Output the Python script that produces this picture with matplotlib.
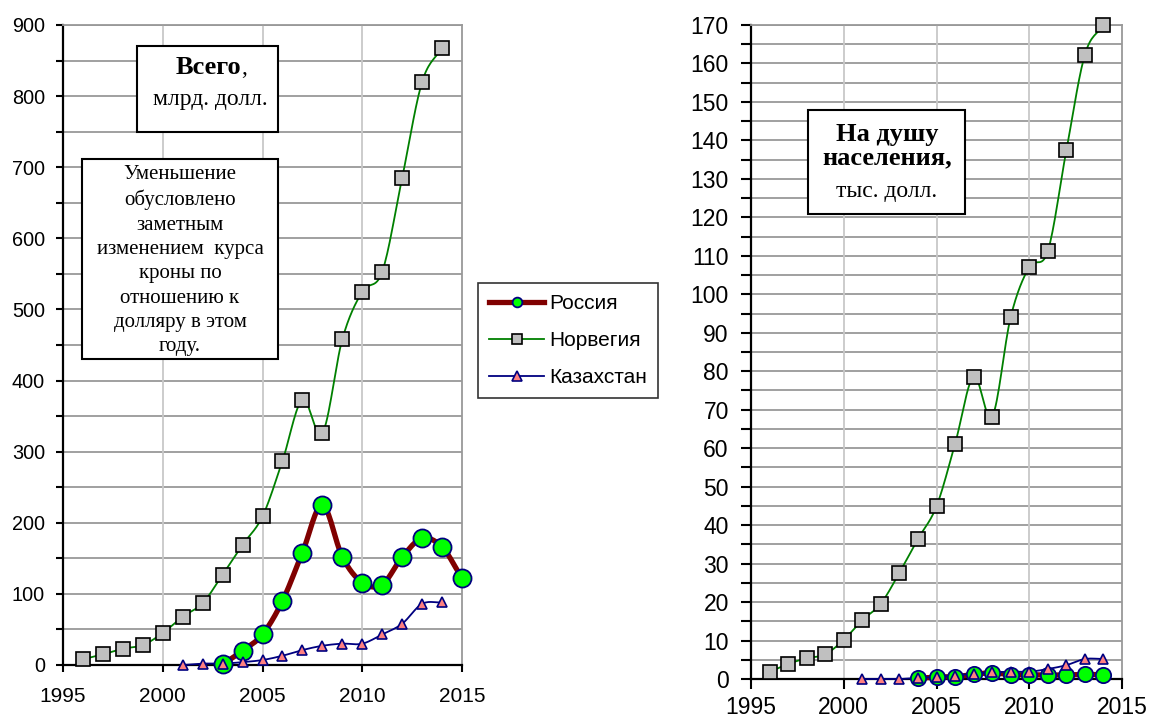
import numpy as np
import matplotlib.pyplot as plt
from matplotlib.patches import Rectangle

# Data
years_nor = list(range(1996, 2015))
years_rus_total = list(range(2003, 2016))
years_rus_pc = list(range(2004, 2015))
years_kaz = list(range(2001, 2015))

nor_total = [8, 15, 23, 28, 45, 68, 87, 127, 169, 209, 287, 373, 326, 458, 525, 553, 685, 820, 868]
rus_total = [1, 20, 43, 90, 158, 225, 152, 116, 113, 152, 178, 166, 122]
kaz_total = [0, 2, 2, 4, 7, 13, 21, 27, 30, 30, 43, 58, 86, 88]

nor_pc = [1.8, 3.9, 5.4, 6.4, 10.2, 15.3, 19.6, 27.6, 36.4, 44.9, 61.1, 78.6, 68.2, 94.1,
          107.1, 111.2, 137.4, 162.3, 170.0]
rus_pc = [0.2, 0.5, 0.6, 1.2, 1.6, 1.1, 1.1, 1.0, 1.1, 1.2, 1.1]
kaz_pc = [0, 0, 0, 0.3, 0.5, 0.9, 1.4, 1.7, 1.9, 1.9, 2.6, 3.6, 5.2, 5.2]

labels = ["Россия", "Норвегия", "Казахстан"]

plt.rcParams["font.family"] = ["Liberation Sans", "DejaVu Sans"]

RUS = dict(color="#800000", lw=3.8, marker="o", mfc="#00ff00", mec="#000080", mew=1.3)
NOR = dict(color="#008000", lw=1.3, marker="s", mfc="#c0c0c0", mec="black", mew=1.2)
KAZ = dict(color="#000080", lw=1.3, marker="^", mfc="#ff8080", mec="#000080", mew=1.2)


def smooth(x, y, n=16):
    # Catmull-Rom curve through the points, like Excel's smoothed lines
    x = np.asarray(x, float)
    y = np.asarray(y, float)
    if len(x) < 3:
        return x, y
    px = np.concatenate([[2 * x[0] - x[1]], x, [2 * x[-1] - x[-2]]])
    py = np.concatenate([[2 * y[0] - y[1]], y, [2 * y[-1] - y[-2]]])
    t = np.linspace(0, 1, n, endpoint=False)
    xs, ys = [], []
    for i in range(1, len(px) - 2):
        for p, out in ((px, xs), (py, ys)):
            p0, p1, p2, p3 = p[i - 1], p[i], p[i + 1], p[i + 2]
            out.extend(0.5 * (2 * p1 + (-p0 + p2) * t + (2 * p0 - 5 * p1 + 4 * p2 - p3) * t ** 2
                              + (-p0 + 3 * p1 - 3 * p2 + p3) * t ** 3))
    xs.append(x[-1])
    ys.append(y[-1])
    return np.array(xs), np.array(ys)


def draw_series(ax, x, y, style, ms, label):
    st = dict(style)
    sx, sy = smooth(x, y)
    ax.plot(sx, sy, color=st["color"], lw=st["lw"], solid_capstyle="round", zorder=3, clip_on=False)
    ax.plot(x, y, ls="none", marker=st["marker"], ms=ms, mfc=st["mfc"], mec=st["mec"],
            mew=st["mew"], zorder=4, clip_on=False)
    # proxy for legend
    return ax.plot([], [], color=st["color"], lw=st["lw"], marker=st["marker"], ms=7,
                   mfc=st["mfc"], mec=st["mec"], mew=st["mew"], label=label)[0]


def style_axes(ax, ymax, ystep, yminor, fs_y, fs_x, tick_len, ypad, xpad):
    ax.set_xlim(1995, 2015)
    ax.set_ylim(0, ymax)
    ax.set_xticks(range(1995, 2016, 5))
    ax.set_yticks(np.arange(0, ymax + 1, ystep))
    ax.set_yticks(np.arange(0, ymax + 1, yminor), minor=True)
    for y in np.arange(yminor, ymax + 1, yminor):
        ax.axhline(y, color="#999999", lw=1.3, zorder=1)
    for x in (2000, 2005, 2010):
        ax.axvline(x, color="#c8c8c8", lw=1.3, zorder=1)
    for s in ("top", "right"):
        ax.spines[s].set_color("#999999")
        ax.spines[s].set_linewidth(1.3)
    for s in ("left", "bottom"):
        ax.spines[s].set_linewidth(1.6)
    ax.tick_params(axis="both", which="both", direction="out", length=tick_len, width=1.5)
    ax.tick_params(axis="y", labelsize=fs_y, pad=ypad)
    ax.tick_params(axis="x", labelsize=fs_x, pad=xpad)


fig = plt.figure(figsize=(11.52, 7.25), dpi=100)

ax1 = fig.add_axes([63 / 1152, 1 - 665 / 725, 399 / 1152, 640 / 725])
style_axes(ax1, 900, 100, 50, 14.3, 15, 5, 8, 11)
h1 = draw_series(ax1, years_rus_total, rus_total, RUS, 13, labels[0])
h2 = draw_series(ax1, years_nor, nor_total, NOR, 9.5, labels[1])
h3 = draw_series(ax1, years_kaz, kaz_total, KAZ, 7, labels[2])

ax2 = fig.add_axes([751 / 1152, 1 - 679 / 725, 371 / 1152, 654 / 725])
style_axes(ax2, 170, 10, 5, 16.5, 16.5, 7, 9, 5)
draw_series(ax2, years_rus_pc, rus_pc, RUS, 11, labels[0])
draw_series(ax2, years_nor, nor_pc, NOR, 9.5, labels[1])
draw_series(ax2, years_kaz, kaz_pc, KAZ, 7, labels[2])

leg = fig.legend(handles=[h1, h2, h3], loc="upper left", bbox_to_anchor=(478 / 1152, 1 - 283 / 725),
                 fontsize=15, frameon=True, fancybox=False, edgecolor="black", handlelength=2.6,
                 handletextpad=0.25, labelspacing=0.85, borderpad=0.55, borderaxespad=0)
leg.get_frame().set_linewidth(1.2)


def box(x0, y0, x1, y1):
    # pixel coords from the top-left corner
    r = Rectangle((x0 / 1152, 1 - y1 / 725), (x1 - x0) / 1152, (y1 - y0) / 725,
                  transform=fig.transFigure, fc="white", ec="black", lw=1.5, zorder=5)
    fig.add_artist(r)
    return r


serif = ["Liberation Serif", "DejaVu Serif"]


def ftext(x, y, s, **kw):
    return fig.text(x / 1152, 1 - y / 725, s, family=serif, zorder=6, **kw)


box(137, 46, 278, 132)
ftext(241, 68, "Всего", ha="right", va="center", fontsize=19, fontweight="bold")
ftext(241, 68, ",", ha="left", va="center", fontsize=17)
ftext(210, 100, "млрд. долл.", ha="center", va="center", fontsize=17)

clip_box = box(82, 159, 278, 359)
note = ("Уменьшение\nобусловлено\nзаметным\nизменением  курса\nкроны по\nотношению к\n"
        "долляру в этом\nгоду.")
t = ftext(180, 165, note, ha="center", va="top", fontsize=15, linespacing=1.38)
t.set_clip_path(clip_box)

box(808, 110, 965, 214)
ftext(887, 146, "На душу\nнаселения,", ha="center", va="center", fontsize=19,
      fontweight="bold", linespacing=1.05)
ftext(887, 192, "тыс. долл.", ha="center", va="center", fontsize=17)

fig.savefig("out.png", dpi=100)
